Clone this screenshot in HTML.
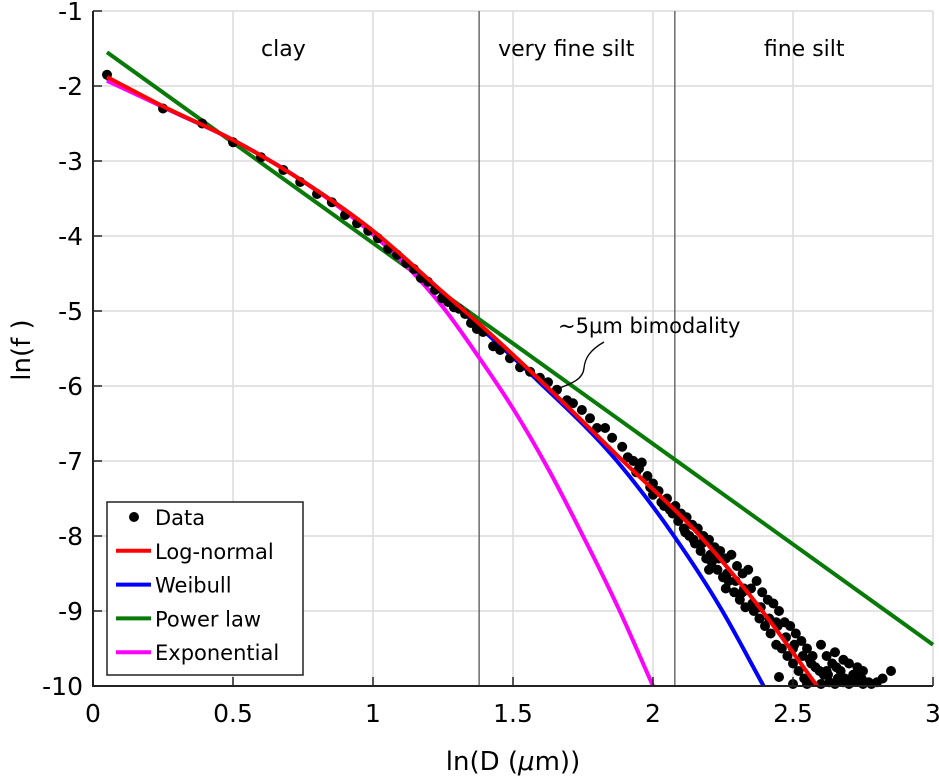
<!DOCTYPE html>
<html><head><meta charset="utf-8"><style>
html,body{margin:0;padding:0;background:#fff;}
svg{display:block;font-family:"DejaVu Sans","Liberation Sans",sans-serif;}
</style></head><body>
<svg id="chart" width="939" height="779" viewBox="0 0 939 779" xmlns="http://www.w3.org/2000/svg">
<g id="grid"></g>
<g id="regions"></g>
<g id="series"></g>
<g id="axes"></g>
<text x="513" y="770" font-size="26" text-anchor="middle">ln(D (<tspan font-style="italic">μ</tspan>m))</text>
<text transform="translate(30,350) rotate(-90)" font-size="26" text-anchor="middle">ln(f )</text>
<g>
<text x="558" y="333" font-size="21">~5μm bimodality</text>
<path d="M604,342 C590,350 585,358 584,368 C583,380 570,384 557,389" fill="none" stroke="#000" stroke-width="1.3"/>
</g>
<g id="legend"></g>
</svg>
<script>
const xTicks=[0,0.5,1,1.5,2,2.5,3];
const xTickLabels=["0","0.5","1","1.5","2","2.5","3"];
const yTicks=[-1,-2,-3,-4,-5,-6,-7,-8,-9,-10];
const yTickLabels=["-1","-2","-3","-4","-5","-6","-7","-8","-9","-10"];
const regionBounds=[1.379,2.078];
const regionNames=["clay","very fine silt","fine silt"];
const regionLabelX=[0.68,1.69,2.54];

const dataX=[0.05,0.25,0.39,0.5,0.6,0.68,0.74,0.8,0.853,0.9,0.943,0.983,1.018,1.054,1.086,1.118,1.146,1.171,1.196,1.221,1.246,1.268,1.289,1.307,1.329,1.35,1.371,1.393,1.429,1.454,1.489,1.525,1.561,1.596,1.625,1.657,1.693,1.714,1.746,1.775,1.8,1.829,1.854,1.89,
1.91,1.93,1.95,1.96,1.98,2.0,2.0,2.02,2.03,2.05,2.06,2.08,2.09,2.1,2.11,2.12,2.13,2.14,2.15,2.16,2.17,2.18,2.19,2.2,2.21,2.22,2.23,2.24,2.25,2.26,2.27,2.28,2.29,2.3,2.31,2.32,2.33,2.34,2.35,2.36,2.37,2.38,2.39,2.4,2.41,2.42,2.43,2.44,2.45,2.46,2.47,2.48,2.49,2.5,2.51,2.52,2.53,2.54,2.55,2.56,2.57,2.58,2.6,2.61,2.62,2.63,2.64,2.65,2.66,2.67,2.68,2.7,2.71,2.72,2.74,2.75,2.77,2.8,2.82,2.85,2.5,2.45,2.55,2.6,2.65,2.7,2.75,2.78,
1.94,1.99,2.04,2.07,2.115,2.145,2.175,2.205,2.235,2.265,2.295,2.325,2.355,2.385,2.415,2.445,2.475,2.505,2.535,2.565,2.595,2.625,2.655,2.685,2.715,2.745,2.2,2.26,2.32,2.38,2.44,2.5,2.56,2.62,2.68,2.73];
const dataY=[-1.85,-2.3,-2.5,-2.75,-2.95,-3.12,-3.28,-3.44,-3.55,-3.72,-3.83,-3.93,-4.03,-4.17,-4.25,-4.36,-4.44,-4.56,-4.61,-4.72,-4.83,-4.88,-4.95,-4.97,-5.04,-5.16,-5.24,-5.28,-5.47,-5.52,-5.63,-5.75,-5.81,-5.89,-5.95,-6.05,-6.19,-6.23,-6.32,-6.43,-6.56,-6.56,-6.69,-6.81,
-6.95,-7.0,-7.1,-7.02,-7.2,-7.3,-7.45,-7.4,-7.55,-7.5,-7.65,-7.6,-7.8,-7.7,-7.9,-7.75,-8.0,-7.85,-8.1,-7.9,-8.2,-8.0,-8.3,-8.05,-8.35,-8.15,-8.45,-8.2,-8.55,-8.3,-8.6,-8.25,-8.75,-8.4,-8.85,-8.5,-8.95,-8.45,-8.7,-9.0,-8.6,-9.1,-8.75,-9.2,-8.85,-9.3,-8.9,-9.45,-9.0,-9.5,-9.15,-9.6,-9.2,-9.7,-9.3,-9.8,-9.4,-9.9,-9.5,-9.95,-9.6,-9.75,-9.45,-9.85,-9.6,-9.95,-9.7,-9.55,-9.9,-9.8,-9.95,-9.7,-9.95,-9.85,-9.95,-9.8,-9.95,-9.95,-9.9,-9.8,-10,-9.88,-10,-10,-10,-10,-10,-10,
-7.15,-7.35,-7.6,-7.7,-7.95,-8.05,-8.1,-8.25,-8.3,-8.5,-8.6,-8.7,-8.9,-8.95,-9.1,-9.2,-9.35,-9.45,-9.6,-9.7,-9.8,-9.85,-9.75,-9.9,-9.85,-9.9,-8.45,-8.7,-8.75,-8.95,-9.15,-9.5,-9.65,-9.8,-9.65,-9.75];

const logNormalX=[0.05,0.25,0.5,0.75,1.0,1.25,1.382,1.596,1.893,2.168,2.39,2.586];
const logNormalY=[-1.88,-2.27,-2.72,-3.27,-3.93,-4.75,-5.18,-5.92,-7.0,-8.0,-9.0,-10];
const weibullX=[0.05,0.25,0.5,0.75,1.0,1.25,1.586,1.871,2.075,2.24,2.395];
const weibullY=[-1.9,-2.28,-2.72,-3.27,-3.94,-4.78,-5.92,-7.0,-8.0,-8.95,-10];
const powerX=[0.05,3.0];
const powerY=[-1.55,-9.45];
const expX=[0.05,0.25,0.5,0.75,1.0,1.125,1.25,1.375,1.5,1.625,1.75,1.875,2.0];
const expY=[-1.93,-2.28,-2.72,-3.27,-3.98,-4.42,-4.95,-5.6,-6.3,-7.1,-8.0,-8.95,-10];

const legendNames=["Data","Log-normal","Weibull","Power law","Exponential"];
const NS="http://www.w3.org/2000/svg";
const X0=93,X1=933,Y0=11,Y1=686;
function sx(v){return X0+(v-0)/(3-0)*(X1-X0);}
function sy(v){return Y0+(-1-v)/(9)*(Y1-Y0);}
function mk(tag,attrs,parent){const e=document.createElementNS(NS,tag);for(const k in attrs)e.setAttribute(k,attrs[k]);parent.appendChild(e);return e;}
const grid=document.getElementById('grid'),axes=document.getElementById('axes'),series=document.getElementById('series'),regions=document.getElementById('regions'),legend=document.getElementById('legend');

xTicks.forEach((t,i)=>{
  const g=mk('line',{x1:sx(t),x2:sx(t),y1:Y0,y2:Y1,stroke:'#dcdcdc','stroke-width':1.5},grid);
  
  
  const tk=mk('line',{x1:sx(t),x2:sx(t),y1:Y1,y2:Y1-9,stroke:'#222','stroke-width':1.5},axes);
  
  
  const tx=mk('text',{x:sx(t),y:Y1+36,'font-size':25,'text-anchor':'middle'},axes);
  tx.textContent=xTickLabels[i];
  
  
});
yTicks.forEach((t,i)=>{
  const g=mk('line',{x1:X0,x2:X1,y1:sy(t),y2:sy(t),stroke:'#dcdcdc','stroke-width':1.5},grid);
  
  
  const tk=mk('line',{x1:X0,x2:X0+9,y1:sy(t),y2:sy(t),stroke:'#222','stroke-width':1.5},axes);
  
  
  const tx=mk('text',{x:X0-10,y:sy(t)+9,'font-size':25,'text-anchor':'end'},axes);
  tx.textContent=yTickLabels[i];
  
  
});
const ax=mk('path',{d:`M${X0},${Y0} V${Y1} H${X1}`,fill:'none',stroke:'#222','stroke-width':2},axes);



regionBounds.forEach(b=>{
  const l=mk('line',{x1:sx(b),x2:sx(b),y1:Y0,y2:Y1,stroke:'#555','stroke-width':1.3},regions);
  
  
});
regionNames.forEach((n,i)=>{
  const t=mk('text',{x:sx(regionLabelX[i]),y:56,'font-size':22,'text-anchor':'middle'},regions);
  t.textContent=n;
  
  
});

// monotone cubic (Fritsch-Carlson) interpolation in pixel space
function line(xs,ys,color,name){
  const P=xs.map((x,i)=>[sx(x),sy(ys[i])]);
  const n=P.length;
  let d='M'+P[0][0].toFixed(1)+','+P[0][1].toFixed(1);
  if(n>2){
    const h=[],s=[];
    for(let i=0;i<n-1;i++){h.push(P[i+1][0]-P[i][0]);s.push((P[i+1][1]-P[i][1])/h[i]);}
    const m=[s[0]];
    for(let i=1;i<n-1;i++){m.push(s[i-1]*s[i]<=0?0:(h[i-1]*s[i]+h[i]*s[i-1])/(h[i-1]+h[i]));}
    m.push(s[n-2]);
    for(let i=0;i<n-1;i++){
      const c1=[P[i][0]+h[i]/3,P[i][1]+m[i]*h[i]/3];
      const c2=[P[i+1][0]-h[i]/3,P[i+1][1]-m[i+1]*h[i]/3];
      d+=` C${c1[0].toFixed(1)},${c1[1].toFixed(1)} ${c2[0].toFixed(1)},${c2[1].toFixed(1)} ${P[i+1][0].toFixed(1)},${P[i+1][1].toFixed(1)}`;
    }
  } else {
    d+=' L'+P[1][0].toFixed(1)+','+P[1][1].toFixed(1);
  }
  const p=mk('path',{d:d,fill:'none',stroke:color,'stroke-width':4,'stroke-linejoin':'round'},series);
  
  
}
line(powerX,powerY,'#087a08','power-law-line');
line(weibullX,weibullY,'#0000ff','weibull-line');
line(expX,expY,'#ff00ff','exponential-line');
const dots=mk('g',{},series);


dataX.forEach((x,i)=>{
  const c=mk('circle',{cx:sx(x),cy:Math.min(sy(dataY[i]),Y1-2),r:5,fill:'#000'},dots);
  
  
});
line(logNormalX,logNormalY,'#ff0000','log-normal-line');

const lb=mk('rect',{x:107,y:502,width:196,height:173,fill:'#fff',stroke:'#222','stroke-width':1.5},legend);


const legColors=['#000','#ff0000','#0000ff','#087a08','#ff00ff'];
legendNames.forEach((n,i)=>{
  const yy=517+i*33.8;
  if(i===0){
    const c=mk('circle',{cx:134,cy:yy,r:5,fill:'#000'},legend);
    
    
  } else {
    const l=mk('line',{x1:116,x2:151,y1:yy,y2:yy,stroke:legColors[i],'stroke-width':4},legend);
    
    
  }
  const t=mk('text',{x:155,y:yy+8,'font-size':21},legend);
  t.textContent=n;
  
  
});
</script>
</body></html>
